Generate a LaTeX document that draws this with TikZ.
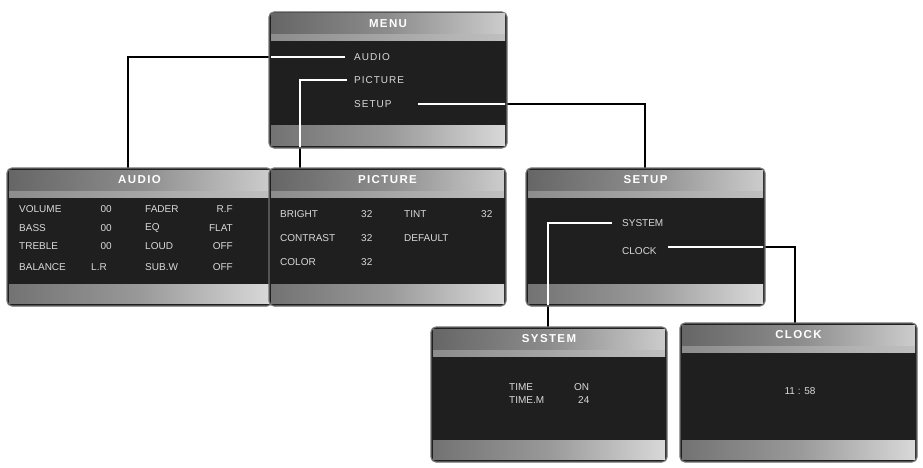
\documentclass[tikz,border=0pt]{standalone}
\usepackage{fontspec}
\setmainfont{Liberation Sans}
\begin{document}
\begin{tikzpicture}[x=1pt,y=-1pt,
  conn/.style={line width=2pt},
  itm/.style={text=white!85!black,font=\fontsize{10}{12}\selectfont,inner sep=0pt,anchor=west},
  itr/.style={text=white!85!black,font=\fontsize{10}{12}\selectfont,inner sep=0pt,anchor=east},
  ttl/.style={text=white,font=\bfseries\fontsize{11.5}{13}\selectfont,inner sep=0pt}]
\useasboundingbox (0,0) rectangle (923,468);
\newcommand\mypanel[6]{%
  \fill[black!88, rounded corners=5pt, draw=black!55, line width=1.2pt] (#2,#3) rectangle (#4,#5);
  \shade[left color=black!60, right color=black!20, middle color=black!45] (#2+2,#3+2) rectangle (#4-2,#3+22);
  \shade[left color=black!45, right color=black!25] (#2+2,#3+23) rectangle (#4-2,#3+29);
  \shade[left color=black!55, right color=black!15, middle color=black!40] (#2+2,#5-22) rectangle (#4-2,#5-3);
  \node[ttl] (#1) at ({(#2+#4)/2},#3+12) {\addfontfeature{LetterSpace=12}#6};
  \coordinate (#1nw) at (#2,#3); \coordinate (#1se) at (#4,#5);
}
\newcommand\myconns[1]{%
  \draw[conn,#1] (a1) -- (a2) -- (a3);
  \draw[conn,#1] (p1) -- (p2) -- (p3);
  \draw[conn,#1] (s1) -- (s2) -- (s3);
  \draw[conn,#1] (y1) -- (y2) -- (y3);
  \draw[conn,#1] (c1) -- (c2) -- (c3);
}
\coordinate (a1) at (345,57); \coordinate (a2) at (128,57); \coordinate (a3) at (128,168);
\coordinate (p1) at (347,80); \coordinate (p2) at (300,80); \coordinate (p3) at (300,168);
\coordinate (s1) at (418,104); \coordinate (s2) at (645,104); \coordinate (s3) at (645,168);
\coordinate (y1) at (612,223); \coordinate (y2) at (548,223); \coordinate (y3) at (548,327);
\coordinate (c1) at (668,247); \coordinate (c2) at (795,247); \coordinate (c3) at (795,323);
\myconns{black}
\mypanel{menu}{269}{12}{507}{148}{MENU}
\mypanel{audio}{7}{168}{272}{306}{AUDIO}
\mypanel{picture}{269}{168}{506}{306}{PICTURE}
\mypanel{setup}{526}{168}{765}{306}{SETUP}
\mypanel{system}{431}{327}{667}{462}{SYSTEM}
\mypanel{clock}{680}{323}{917}{462}{CLOCK}
\foreach \p in {menu,setup}{
  \begin{scope}
    \clip ([shift={(2,2)}]\p nw) rectangle ([shift={(-2,-2)}]\p se);
    \myconns{white}
  \end{scope}}
\begin{scope}
  \clip (431,329) rectangle (667,462); \draw[conn,white] (y2) -- (y3);
\end{scope}
\node[itm] (m1) at (354,57) {\addfontfeature{LetterSpace=10}AUDIO};
\node[itm] (m2) at (354,80) {\addfontfeature{LetterSpace=10}PICTURE};
\node[itm] (m3) at (354,104) {\addfontfeature{LetterSpace=10}SETUP};
% audio
\node[itm] (v1) at (19,209) {VOLUME}; \node[itr] (v2) at (112,209) {00};
\node[itm] (v3) at (145,209) {FADER}; \node[itr] (v4) at (233,209) {R.F};
\node[itm] (b1) at (19,228) {BASS}; \node[itr] (b2) at (112,228) {00};
\node[itm] (b3) at (145,228) {EQ}; \node[itr] (b4) at (233,228) {FLAT};
\node[itm] (t1) at (19,246) {TREBLE}; \node[itr] (t2) at (112,246) {00};
\node[itm] (t3) at (145,246) {LOUD}; \node[itr] (t4) at (233,246) {OFF};
\node[itm] (l1) at (19,267) {BALANCE}; \node[itm] (l2) at (91,267) {L.R};
\node[itm] (l3) at (145,267) {SUB.W}; \node[itr] (l4) at (233,267) {OFF};
% picture
\node[itm] (q1) at (280,214) {BRIGHT}; \node[itm] (q2) at (361,214) {32};
\node[itm] (q3) at (404,214) {TINT}; \node[itm] (q4) at (481,214) {32};
\node[itm] (q5) at (280,238) {CONTRAST}; \node[itm] (q6) at (361,238) {32};
\node[itm] (q7) at (404,238) {DEFAULT};
\node[itm] (q8) at (280,262) {COLOR}; \node[itm] (q9) at (361,262) {32};
% setup
\node[itm] (u1) at (622,223) {SYSTEM};
\node[itm] (u2) at (622,251) {CLOCK};
% system
\node[itm] (w1) at (509,387) {TIME}; \node[itm] (w2) at (574,387) {ON};
\node[itm] (w3) at (509,400) {TIME.M}; \node[itm] (w4) at (578,400) {24};
% clock
\node[itm,anchor=center] (k1) at (800,391) {11 : 58};
\end{tikzpicture}
\end{document}
